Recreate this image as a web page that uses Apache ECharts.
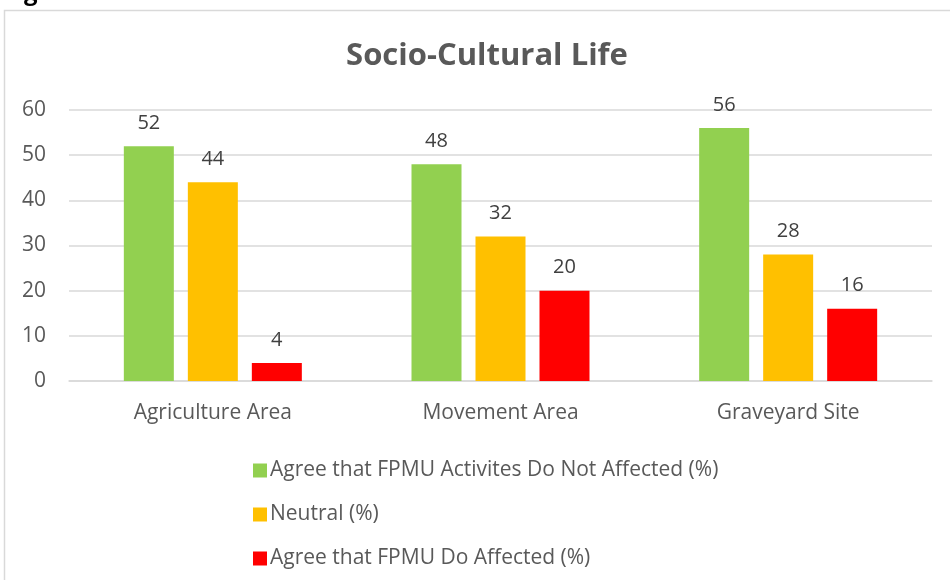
<!DOCTYPE html>
<html>
<head>
<meta charset="utf-8">
<script src="https://cdn.jsdelivr.net/npm/echarts@6/dist/echarts.min.js"></script>
<style>
html, body { margin: 0; padding: 0; background: #fff; }
#main { width: 950px; height: 580px; }
</style>
</head>
<body>
<div id="main"></div>
<script>
var myChart = echarts.init(document.getElementById('main'));

// data
var categories = ['Agriculture Area', 'Movement Area', 'Graveyard Site'];
var seriesNames = [
    'Agree that FPMU Activites Do Not Affected (%)',
    'Neutral (%)',
    'Agree that FPMU Do Affected (%)'
];
var notAffected = [52, 48, 56];
var neutral = [44, 32, 28];
var doAffected = [4, 20, 16];
var yTicks = [0, 10, 20, 30, 40, 50, 60];

var colors = ['#92d050', '#ffc000', '#ff0000'];
var font = 'Open Sans';

function makeSeries(name, values, color) {
    return {
        name: name,
        type: 'bar',
        data: values,
        barWidth: 50,
        barGap: '28%',
        itemStyle: { color: color },
        label: {
            show: true,
            position: 'top',
            distance: 13,
            color: '#404040',
            fontSize: 20,
            fontFamily: font
        }
    };
}

option = {
    animation: false,
    backgroundColor: '#fff',
    title: {
        text: 'Socio-Cultural Life',
        left: 482,
        top: 36,
        textAlign: 'center',
        textStyle: { fontSize: 31, fontWeight: 'bold', color: '#595959', fontFamily: font }
    },
    graphic: [
        // chart frame
        { type: 'rect', shape: { x: 4.5, y: 10.5, width: 1000, height: 700 }, style: { fill: null, stroke: '#d9d9d9', lineWidth: 1.5 }, silent: true },
        // cut-off caption letter above the frame
        { type: 'text', style: { x: 24, y: 5, text: 'g', font: 'bold 24px ' + font, fill: '#000', verticalAlign: 'bottom' }, silent: true }
    ],
    grid: { left: 69, right: 18, top: 110, bottom: 199, containLabel: false },
    legend: {
        orient: 'vertical',
        left: 248,
        top: 455,
        itemGap: 23,
        itemWidth: 14,
        itemHeight: 14,
        icon: 'rect',
        textStyle: { color: '#595959', fontSize: 21, fontFamily: font, padding: [0, 0, 0, -2] },
        data: seriesNames
    },
    xAxis: {
        type: 'category',
        data: categories,
        axisLine: { lineStyle: { color: '#d9d9d9', width: 1.5 } },
        axisTick: { show: false },
        axisLabel: { color: '#595959', fontSize: 21, fontFamily: font, margin: 22 }
    },
    yAxis: {
        type: 'value',
        min: yTicks[0],
        max: yTicks[yTicks.length - 1],
        interval: 10,
        axisLine: { show: false },
        axisTick: { show: false },
        splitLine: { lineStyle: { color: '#d9d9d9', width: 1.5 } },
        axisLabel: { color: '#595959', fontSize: 21, fontFamily: font, margin: 23 }
    },
    series: [
        makeSeries(seriesNames[0], notAffected, colors[0]),
        makeSeries(seriesNames[1], neutral, colors[1]),
        makeSeries(seriesNames[2], doAffected, colors[2])
    ]
};

myChart.setOption(option);
</script>
</body>
</html>
